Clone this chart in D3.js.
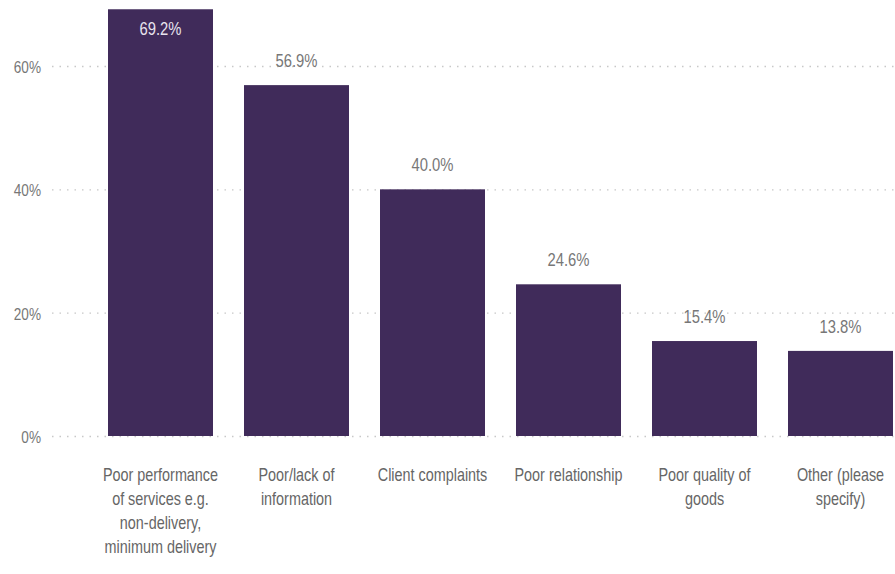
<!DOCTYPE html>
<html>
<head>
<meta charset="utf-8">
<script src="https://cdn.jsdelivr.net/npm/d3@7"></script>
<style>
  body { margin: 0; background: #fff; }
  text { font-family: "Liberation Sans", Arial, sans-serif; }
</style>
</head>
<body>
<div id="chart"></div>
<script>
/* DATA */
const categories = [
  ["Poor performance", "of services e.g.", "non-delivery,", "minimum delivery"],
  ["Poor/lack of", "information"],
  ["Client complaints"],
  ["Poor relationship"],
  ["Poor quality of", "goods"],
  ["Other (please", "specify)"]
];
const values = [69.2, 56.9, 40.0, 24.6, 15.4, 13.8];
const yTicks = [0, 20, 40, 60];

/* LAYOUT */
const width = 895,
  height = 574,
  margin = { top: 10, bottom: 138, left: 108, right: 2 },
  squeeze = 0.8; // the reference type is narrow

const svg = d3.select("#chart")
  .append("svg")
  .attr("width", width)
  .attr("height", height);

const xScale = d3.scaleBand()
  .domain(d3.range(values.length))
  .range([margin.left, width - margin.right])
  .paddingInner(0.228)
  .paddingOuter(0);

const yScale = d3.scaleLinear()
  .domain([0, 60])
  .range([height - margin.bottom, 66]);

// gridlines + tick labels
const yAxis = d3.axisLeft(yScale)
  .tickValues(yTicks)
  .tickFormat(d => d + "%")
  .tickSize(-(width - 52))
  .tickPadding(0);

svg.append("g")
  .attr("class", "y-axis")
  .attr("transform", `translate(52,0)`)
  .call(yAxis)
  .call(g => g.select(".domain").remove())
  .call(g => g.selectAll(".tick line")
    .attr("stroke", "#c8c8c8")
    .attr("stroke-width", 1.3)
    .attr("stroke-dasharray", "1.5,6"))
  .call(g => g.selectAll(".tick text")
    .attr("x", 0)
    .attr("transform", `translate(-11,1) scale(${squeeze},1)`)
    .attr("fill", "#777")
    .attr("font-size", 17));

// bars
svg.selectAll("rect.bar")
  .data(values)
  .join("rect")
  .attr("class", "bar")
  .attr("x", (d, i) => xScale(i))
  .attr("width", xScale.bandwidth())
  .attr("y", d => yScale(d))
  .attr("height", d => yScale(0) - yScale(d))
  .attr("fill", "#402b5a");

// value labels (inside for the tallest bar)
svg.selectAll("text.value")
  .data(values)
  .join("text")
  .attr("class", "value")
  .attr("transform", (d, i) => {
    const cx = xScale(i) + xScale.bandwidth() / 2;
    const cy = d > 65 ? yScale(d) + 26 : yScale(d) - 18;
    return `translate(${cx},${cy}) scale(${squeeze},1)`;
  })
  .attr("text-anchor", "middle")
  .attr("font-size", 18.5)
  .attr("fill", d => d > 65 ? "#e8e4ee" : "#777")
  .text(d => d.toFixed(1) + "%");

// category labels
const catLabel = svg.selectAll("text.cat")
  .data(categories)
  .join("text")
  .attr("class", "cat")
  .attr("text-anchor", "middle")
  .attr("font-size", 18)
  .attr("fill", "#666")
  .attr("transform", (d, i) => `translate(${xScale(i) + xScale.bandwidth() / 2}, ${yScale(0) + 45}) scale(${squeeze},1)`);

catLabel.selectAll("tspan")
  .data(d => d)
  .join("tspan")
  .attr("x", 0)
  .attr("y", (d, i) => i * 24)
  .text(d => d);
</script>
</body>
</html>
